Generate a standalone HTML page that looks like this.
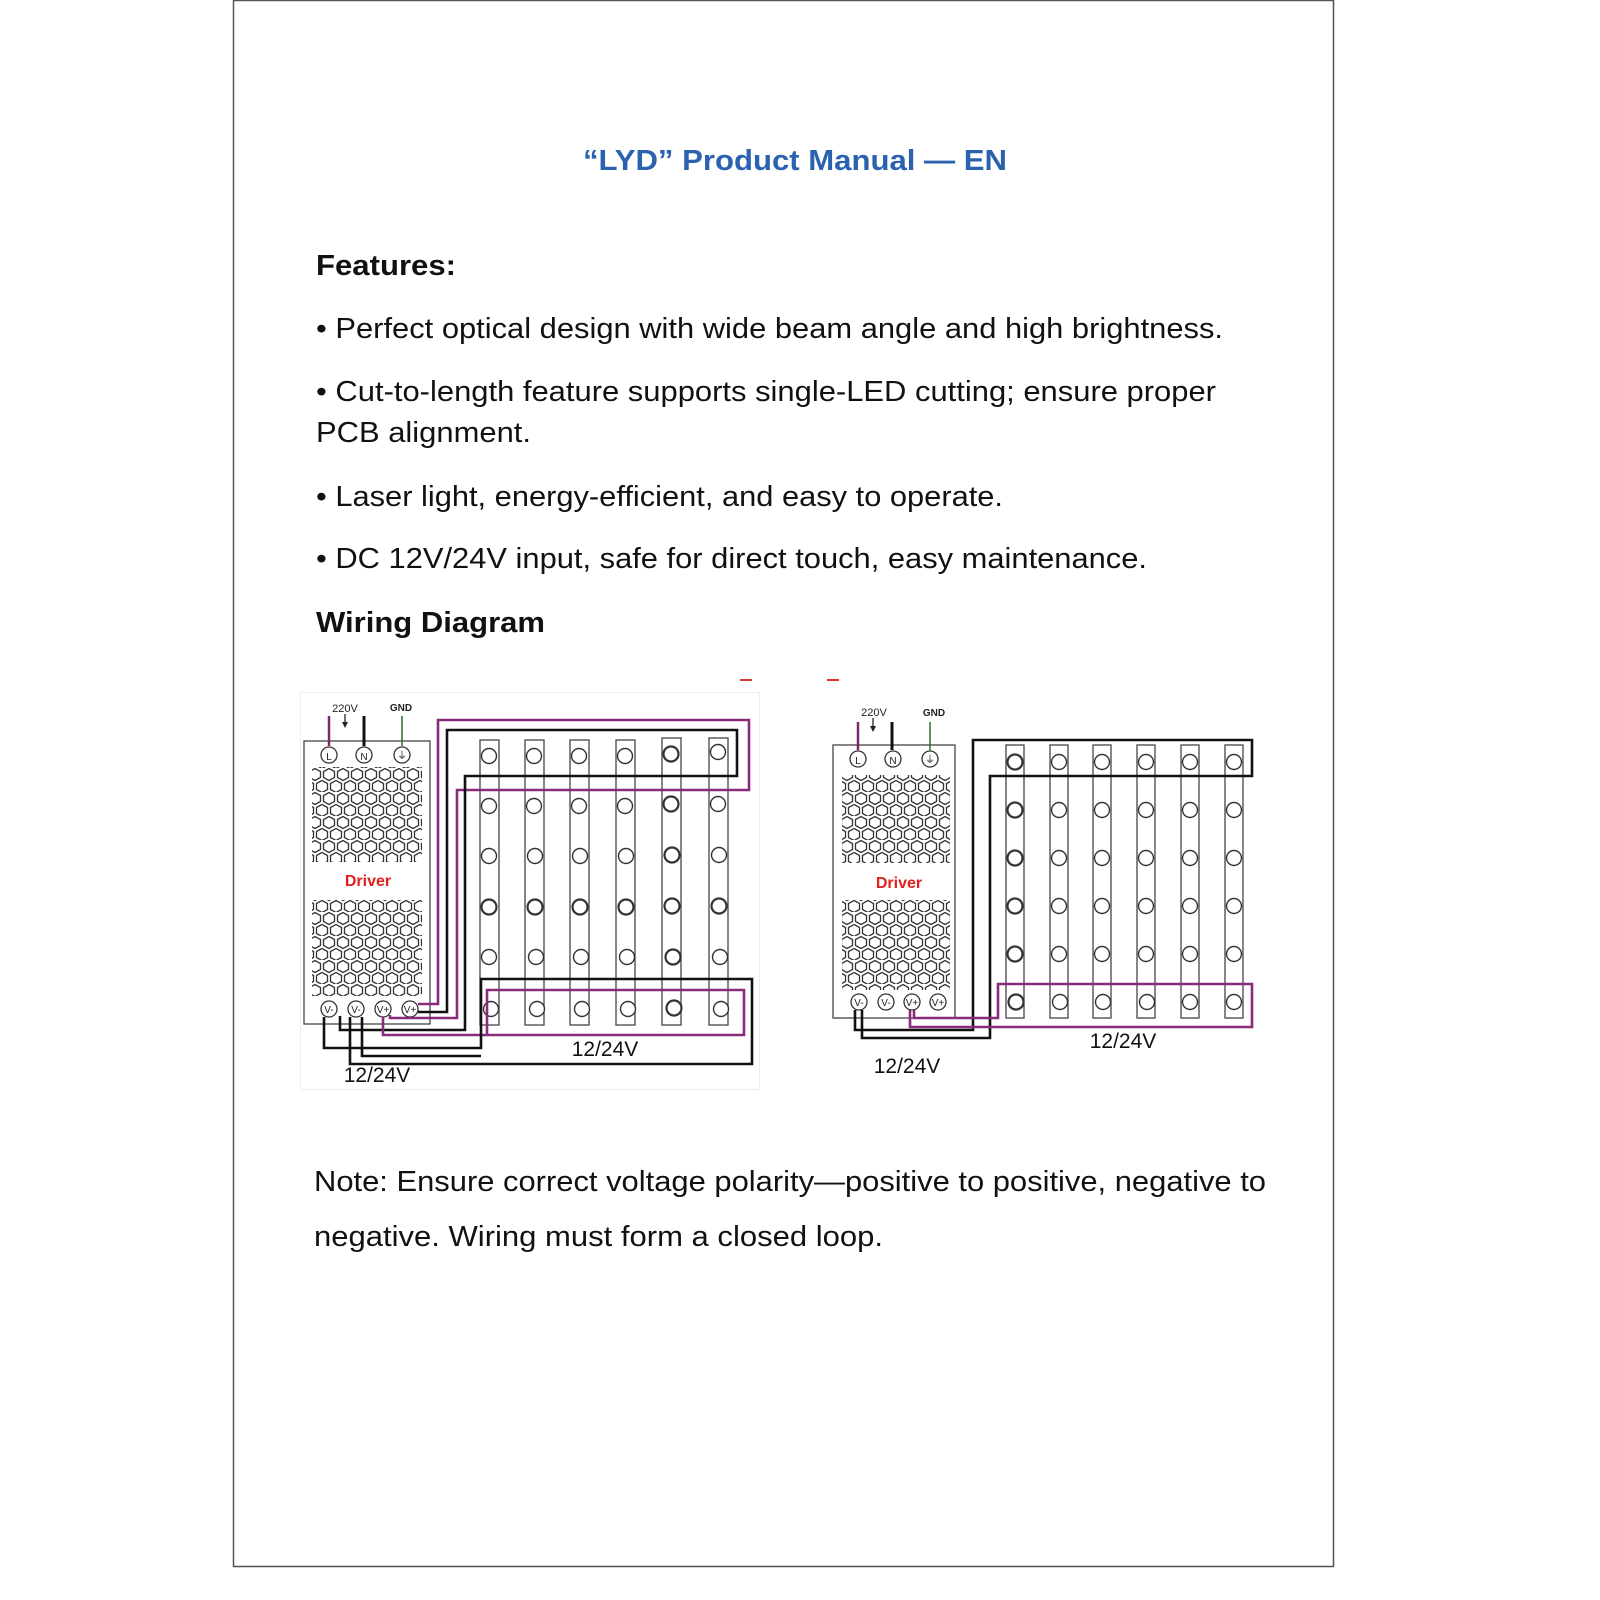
<!DOCTYPE html>
<html><head><meta charset="utf-8"><style>
html,body{margin:0;padding:0;background:#fff;width:1600px;height:1600px;overflow:hidden}
svg{display:block}
text{font-family:"Liberation Sans",Arial,sans-serif}
</style></head><body>
<svg width="1600" height="1600" viewBox="0 0 1600 1600" xmlns="http://www.w3.org/2000/svg">
<defs>
<pattern id="hex" x="0" y="0" width="14" height="24" patternUnits="userSpaceOnUse">
<polygon points="7,0.5 12.5,3.5 12.5,9.5 7,12.5 1.5,9.5 1.5,3.5" fill="none" stroke="#333" stroke-width="1.3"/>
<polygon points="0,12.5 5.5,15.5 5.5,21.5 0,24.5 -5.5,21.5 -5.5,15.5" fill="none" stroke="#333" stroke-width="1.3"/>
<polygon points="14,12.5 19.5,15.5 19.5,21.5 14,24.5 8.5,21.5 8.5,15.5" fill="none" stroke="#333" stroke-width="1.3"/>
</pattern>
</defs>
<rect x="0" y="0" width="1600" height="1600" fill="#fff"/>
<rect x="233.5" y="0.5" width="1100" height="1566" fill="none" stroke="#555" stroke-width="1.5"/>

<text x="583" y="170" font-size="29" font-weight="bold" fill="#2a62b0" textLength="424" lengthAdjust="spacingAndGlyphs">“LYD” Product Manual — EN</text>
<text x="316" y="275" font-size="29" font-weight="bold" fill="#111" textLength="140" lengthAdjust="spacingAndGlyphs">Features:</text>
<g font-size="29" fill="#111">
<text x="316" y="338" textLength="907" lengthAdjust="spacingAndGlyphs">• Perfect optical design with wide beam angle and high brightness.</text>
<text x="316" y="401" textLength="900" lengthAdjust="spacingAndGlyphs">• Cut-to-length feature supports single-LED cutting; ensure proper</text>
<text x="316" y="442" textLength="215" lengthAdjust="spacingAndGlyphs">PCB alignment.</text>
<text x="316" y="506" textLength="687" lengthAdjust="spacingAndGlyphs">• Laser light, energy-efficient, and easy to operate.</text>
<text x="316" y="568" textLength="831" lengthAdjust="spacingAndGlyphs">• DC 12V/24V input, safe for direct touch, easy maintenance.</text>
<text x="314" y="1191" textLength="952" lengthAdjust="spacingAndGlyphs">Note: Ensure correct voltage polarity—positive to positive, negative to</text>
<text x="314" y="1246" textLength="569" lengthAdjust="spacingAndGlyphs">negative. Wiring must form a closed loop.</text>
</g>
<text x="316" y="632" font-size="29" font-weight="bold" fill="#111" textLength="229" lengthAdjust="spacingAndGlyphs">Wiring Diagram</text>

<line x1="740" y1="680" x2="752" y2="680" stroke="#d33" stroke-width="2"/>
<line x1="827" y1="680" x2="839" y2="680" stroke="#d33" stroke-width="2"/>

<!-- ===== Diagram 1 ===== -->
<rect x="300.5" y="692.5" width="459" height="397" fill="none" stroke="#eee" stroke-width="1"/>
<rect x="304" y="741" width="126" height="283" fill="none" stroke="#444" stroke-width="1.3"/>
<rect x="312" y="767" width="110" height="95" fill="url(#hex)"/>
<rect x="312" y="900" width="110" height="96" fill="url(#hex)"/>
<text x="368" y="886" font-size="16" font-weight="bold" fill="#e0201e" text-anchor="middle">Driver</text>
<text x="345" y="712" font-size="11" fill="#222" text-anchor="middle">220V</text>
<text x="401" y="711" font-size="10" font-weight="bold" fill="#222" text-anchor="middle">GND</text>
<line x1="345" y1="714" x2="345" y2="726" stroke="#222" stroke-width="1.3"/>
<polygon points="342,722 348,722 345,728" fill="#222"/>
<line x1="329" y1="716" x2="329" y2="746" stroke="#7a2a6a" stroke-width="2.5"/>
<line x1="364" y1="716" x2="364" y2="746" stroke="#111" stroke-width="3"/>
<line x1="402" y1="716" x2="402" y2="746" stroke="#2a6a2a" stroke-width="1.5"/>
<g fill="#fff" stroke="#333" stroke-width="1.3">
<circle cx="329" cy="755" r="8"/><circle cx="364" cy="755" r="8"/><circle cx="402" cy="755" r="8"/>
<circle cx="329" cy="1009" r="8"/><circle cx="356" cy="1009" r="8"/><circle cx="383" cy="1009" r="8"/><circle cx="410" cy="1009" r="8"/>
</g>
<g font-size="10" fill="#222" text-anchor="middle">
<text x="329" y="760">L</text><text x="364" y="760">N</text><text x="402" y="759">⏚</text>
<text x="329" y="1013">V-</text><text x="356" y="1013">V-</text><text x="383" y="1013">V+</text><text x="410" y="1013">V+</text>
</g>
<g stroke="#444" fill="none" stroke-width="1.3">
<rect x="480" y="740" width="19" height="285"/><rect x="525" y="740" width="19" height="285"/>
<rect x="570" y="740" width="19" height="285"/><rect x="616" y="740" width="19" height="285"/>
<rect x="662" y="738" width="19" height="287"/><rect x="709" y="738" width="19" height="287"/>
</g>
<g fill="#fff" stroke="#333" stroke-width="1.4">
<circle cx="489" cy="756" r="7.5"/><circle cx="489" cy="806" r="7.5"/><circle cx="489" cy="856" r="7.5"/><circle cx="489" cy="907" r="7.5" stroke-width="2.2"/><circle cx="489" cy="957" r="7.5"/><circle cx="491" cy="1009" r="7.5"/>
<circle cx="534" cy="756" r="7.5"/><circle cx="534" cy="806" r="7.5"/><circle cx="535" cy="856" r="7.5"/><circle cx="535" cy="907" r="7.5" stroke-width="2.2"/><circle cx="536" cy="957" r="7.5"/><circle cx="537" cy="1009" r="7.5"/>
<circle cx="579" cy="756" r="7.5"/><circle cx="579" cy="806" r="7.5"/><circle cx="580" cy="856" r="7.5"/><circle cx="580" cy="907" r="7.5" stroke-width="2.2"/><circle cx="581" cy="957" r="7.5"/><circle cx="582" cy="1009" r="7.5"/>
<circle cx="625" cy="756" r="7.5"/><circle cx="625" cy="806" r="7.5"/><circle cx="626" cy="856" r="7.5"/><circle cx="626" cy="907" r="7.5" stroke-width="2.2"/><circle cx="627" cy="957" r="7.5"/><circle cx="628" cy="1009" r="7.5"/>
<circle cx="671" cy="754" r="7.5" stroke-width="2.2"/><circle cx="671" cy="804" r="7.5" stroke-width="2.2"/><circle cx="672" cy="855" r="7.5" stroke-width="2.2"/><circle cx="672" cy="906" r="7.5" stroke-width="2.2"/><circle cx="673" cy="957" r="7.5" stroke-width="2.2"/><circle cx="674" cy="1008" r="7.5" stroke-width="2.2"/>
<circle cx="718" cy="752" r="7.5"/><circle cx="718" cy="804" r="7.5"/><circle cx="719" cy="855" r="7.5"/><circle cx="719" cy="906" r="7.5" stroke-width="2.2"/><circle cx="720" cy="957" r="7.5"/><circle cx="721" cy="1009" r="7.5"/>
</g>
<g fill="none" stroke-width="2.6">
<path d="M418,1004 H438 V720 H749 V790 H457 V1018 H390 V1015" stroke="#8a2a7a"/>
<path d="M418,1012 H447 V730 H737 V776 H465 V1030 H340 V1016" stroke="#111"/>
<path d="M487,1035 V990 H744 V1035 H383 V1017" stroke="#8a2a7a"/>
<path d="M481,1000 V979 H752 V1064 H350 V1017" stroke="#111"/>
<path d="M324,1017 V1048 H481 V1000" stroke="#111"/>
<path d="M362,1017 V1056 H481" stroke="#111"/>
</g>
<text x="605" y="1056" font-size="21" fill="#111" text-anchor="middle">12/24V</text>
<text x="377" y="1082" font-size="21" fill="#111" text-anchor="middle">12/24V</text>

<!-- ===== Diagram 2 ===== -->
<rect x="833" y="745" width="122" height="273" fill="none" stroke="#444" stroke-width="1.3"/>
<rect x="842" y="775" width="108" height="88" fill="url(#hex)"/>
<rect x="842" y="900" width="108" height="90" fill="url(#hex)"/>
<text x="899" y="888" font-size="16" font-weight="bold" fill="#e0201e" text-anchor="middle">Driver</text>
<text x="874" y="716" font-size="11" fill="#222" text-anchor="middle">220V</text>
<text x="934" y="716" font-size="10" font-weight="bold" fill="#222" text-anchor="middle">GND</text>
<line x1="873" y1="718" x2="873" y2="730" stroke="#222" stroke-width="1.3"/>
<polygon points="870,726 876,726 873,732" fill="#222"/>
<line x1="858" y1="722" x2="858" y2="750" stroke="#7a2a6a" stroke-width="2.5"/>
<line x1="892" y1="722" x2="892" y2="750" stroke="#111" stroke-width="3"/>
<line x1="930" y1="722" x2="930" y2="750" stroke="#2a6a2a" stroke-width="1.5"/>
<g fill="#fff" stroke="#333" stroke-width="1.3">
<circle cx="858" cy="759" r="8"/><circle cx="893" cy="759" r="8"/><circle cx="930" cy="759" r="8"/>
<circle cx="859" cy="1002" r="8"/><circle cx="886" cy="1002" r="8"/><circle cx="912" cy="1002" r="8"/><circle cx="938" cy="1002" r="8"/>
</g>
<g font-size="10" fill="#222" text-anchor="middle">
<text x="858" y="764">L</text><text x="893" y="764">N</text><text x="930" y="763">⏚</text>
<text x="859" y="1006">V-</text><text x="886" y="1006">V-</text><text x="912" y="1006">V+</text><text x="938" y="1006">V+</text>
</g>
<g stroke="#444" fill="none" stroke-width="1.3">
<rect x="1006" y="745" width="18" height="273"/><rect x="1050" y="745" width="18" height="273"/>
<rect x="1093" y="745" width="18" height="273"/><rect x="1137" y="745" width="18" height="273"/>
<rect x="1181" y="745" width="18" height="273"/><rect x="1225" y="745" width="18" height="273"/>
</g>
<g fill="#fff" stroke="#333" stroke-width="1.4">
<circle cx="1015" cy="762" r="7.5" stroke-width="2.2"/><circle cx="1015" cy="810" r="7.5" stroke-width="2.2"/><circle cx="1015" cy="858" r="7.5" stroke-width="2.2"/><circle cx="1015" cy="906" r="7.5" stroke-width="2.2"/><circle cx="1015" cy="954" r="7.5" stroke-width="2.2"/><circle cx="1016" cy="1002" r="7.5" stroke-width="2.2"/>
<circle cx="1059" cy="762" r="7.5"/><circle cx="1059" cy="810" r="7.5"/><circle cx="1059" cy="858" r="7.5"/><circle cx="1059" cy="906" r="7.5"/><circle cx="1059" cy="954" r="7.5"/><circle cx="1060" cy="1002" r="7.5"/>
<circle cx="1102" cy="762" r="7.5"/><circle cx="1102" cy="810" r="7.5"/><circle cx="1102" cy="858" r="7.5"/><circle cx="1102" cy="906" r="7.5"/><circle cx="1102" cy="954" r="7.5"/><circle cx="1103" cy="1002" r="7.5"/>
<circle cx="1146" cy="762" r="7.5"/><circle cx="1146" cy="810" r="7.5"/><circle cx="1146" cy="858" r="7.5"/><circle cx="1146" cy="906" r="7.5"/><circle cx="1146" cy="954" r="7.5"/><circle cx="1147" cy="1002" r="7.5"/>
<circle cx="1190" cy="762" r="7.5"/><circle cx="1190" cy="810" r="7.5"/><circle cx="1190" cy="858" r="7.5"/><circle cx="1190" cy="906" r="7.5"/><circle cx="1190" cy="954" r="7.5"/><circle cx="1190" cy="1002" r="7.5"/>
<circle cx="1234" cy="762" r="7.5"/><circle cx="1234" cy="810" r="7.5"/><circle cx="1234" cy="858" r="7.5"/><circle cx="1234" cy="906" r="7.5"/><circle cx="1234" cy="954" r="7.5"/><circle cx="1234" cy="1002" r="7.5"/>
</g>
<g fill="none" stroke-width="2.6">
<path d="M855,1010 V1030 H973 V740 H1252 V776 H990 V1038 H862 V1010" stroke="#111"/>
<path d="M914,1010 V1018 H998 V984 H1252 V1027 H910 V1010" stroke="#8a2a7a"/>
</g>
<text x="1123" y="1048" font-size="21" fill="#111" text-anchor="middle">12/24V</text>
<text x="907" y="1073" font-size="21" fill="#111" text-anchor="middle">12/24V</text>
</svg>
</body></html>
